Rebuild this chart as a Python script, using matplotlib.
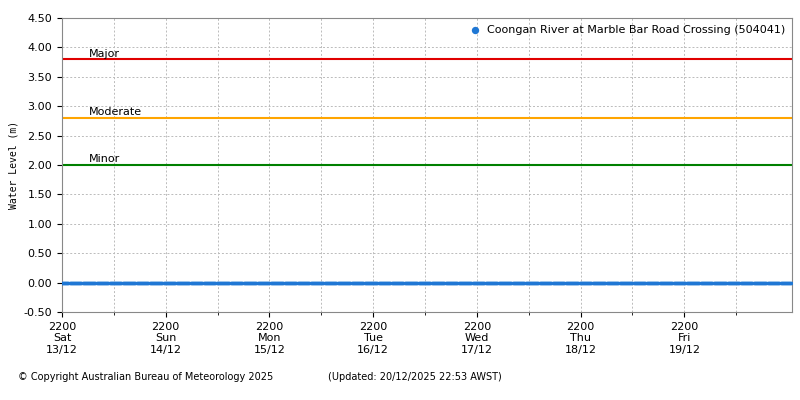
import matplotlib
matplotlib.use("Agg")
import matplotlib.pyplot as plt
import numpy as np

days = ["Sat\n13/12", "Sun\n14/12", "Mon\n15/12", "Tue\n16/12", "Wed\n17/12", "Thu\n18/12", "Fri\n19/12"]
levels = [("Major", 3.8, "#e00000"), ("Moderate", 2.8, "#ffa500"), ("Minor", 2.0, "#008000")]
series_name = "Coongan River at Marble Bar Road Crossing (504041)"
# observations every 15 minutes, all at 0.00 m
obs_hours = np.arange(0, 7 * 24 + 0.9, 0.25)
obs_level = [0.0] * len(obs_hours)

fig = plt.figure(figsize=(8, 4), dpi=100)
ax = fig.add_axes([0.0775, 0.22, 0.913, 0.735])
ax.set_xlim(0, 7 * 24 + 1)
ax.set_ylim(-0.5, 4.5)
for name, v, c in levels:
    ax.axhline(v, color=c, lw=1.5, zorder=2)
    ax.text(6.2, v + 0.01, name, fontsize=8, va="bottom", ha="left")
ax.scatter(obs_hours, obs_level, s=7, color="#1f77d4", zorder=3, label=series_name, linewidths=0)
ax.set_yticks(np.arange(-0.5, 4.51, 0.5))
ax.set_yticklabels([f"{v:.2f}" for v in np.arange(-0.5, 4.51, 0.5)], fontsize=8)
ax.set_xticks([i * 24 for i in range(7)])
ax.set_xticklabels([f"2200\n{d}" for d in days], fontsize=8)
ax.set_xticks([i * 24 + 12 for i in range(7)], minor=True)
ax.grid(True, which="both", color="#bbbbbb", ls=(0, (2, 2)), lw=0.7)
ax.set_ylabel("Water Level (m)", fontsize=7, family="DejaVu Sans Mono")
for s in ax.spines.values():
    s.set_color("#888888")
leg = ax.legend(loc="upper right", fontsize=8, frameon=False, handletextpad=0.1, markerscale=2,
                borderaxespad=0.2)
fig.text(0.022, 0.05, "© Copyright Australian Bureau of Meteorology 2025", fontsize=7)
fig.text(0.41, 0.05, "(Updated: 20/12/2025 22:53 AWST)", fontsize=7)
fig.savefig("out.png", dpi=100)
